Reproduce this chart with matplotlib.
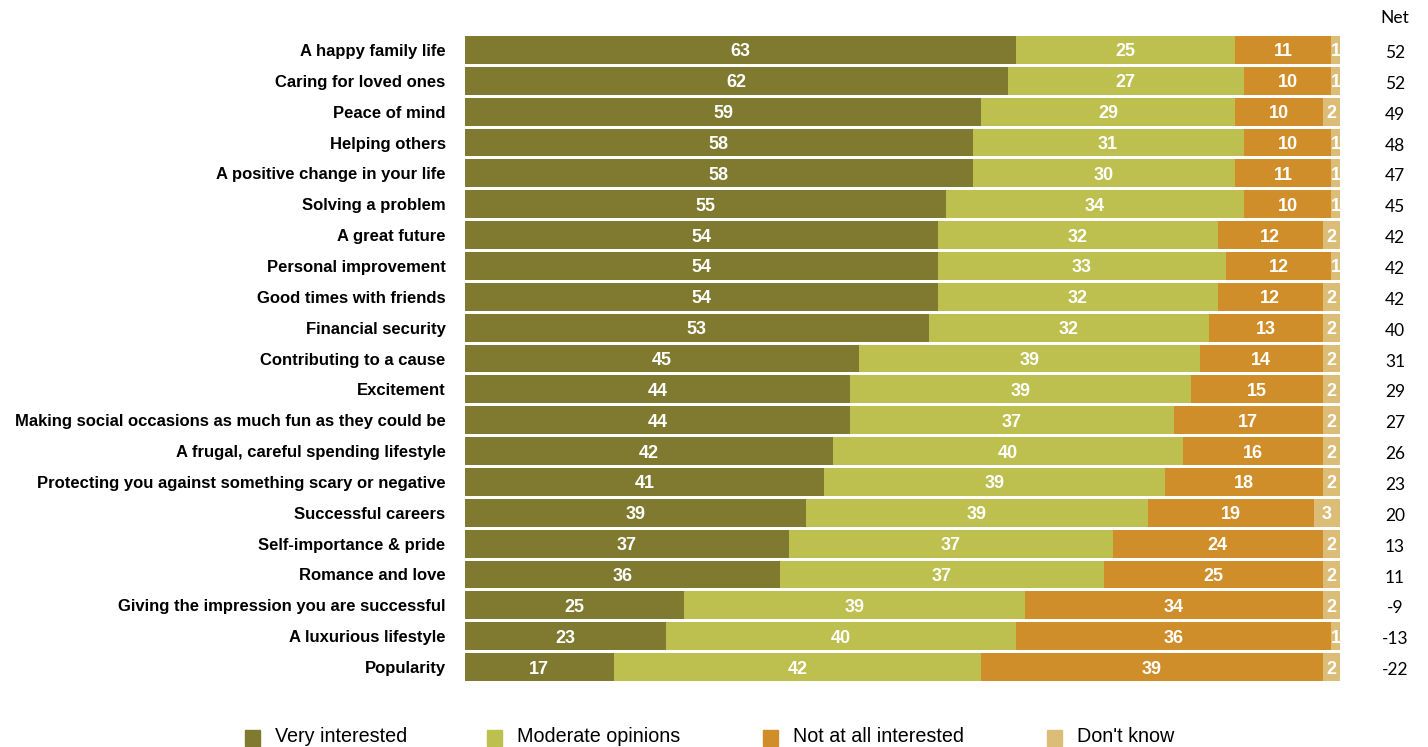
import numpy as np
import matplotlib.pyplot as plt

plt.rcParams['font.family'] = ['Liberation Sans', 'DejaVu Sans']

categories = [
    "A happy family life",
    "Caring for loved ones",
    "Peace of mind",
    "Helping others",
    "A positive change in your life",
    "Solving a problem",
    "A great future",
    "Personal improvement",
    "Good times with friends",
    "Financial security",
    "Contributing to a cause",
    "Excitement",
    "Making social occasions as much fun as they could be",
    "A frugal, careful spending lifestyle",
    "Protecting you against something scary or negative",
    "Successful careers",
    "Self-importance & pride",
    "Romance and love",
    "Giving the impression you are successful",
    "A luxurious lifestyle",
    "Popularity",
]
very = [63, 62, 59, 58, 58, 55, 54, 54, 54, 53, 45, 44, 44, 42, 41, 39, 37, 36, 25, 23, 17]
moderate = [25, 27, 29, 31, 30, 34, 32, 33, 32, 32, 39, 39, 37, 40, 39, 39, 37, 37, 39, 40, 42]
not_at_all = [11, 10, 10, 10, 11, 10, 12, 12, 12, 13, 14, 15, 17, 16, 18, 19, 24, 25, 34, 36, 39]
dont_know = [1, 1, 2, 1, 1, 1, 2, 1, 2, 2, 2, 2, 2, 2, 2, 3, 2, 2, 2, 1, 2]
net = [52, 52, 49, 48, 47, 45, 42, 42, 42, 40, 31, 29, 27, 26, 23, 20, 13, 11, -9, -13, -22]

series = [very, moderate, not_at_all, dont_know]
series_names = ["Very interested", "Moderate opinions", "Not at all interested", "Don't know"]
colors = ["#807a30", "#bdbf4f", "#cf8e2a", "#dbbd78"]

fig = plt.figure(figsize=(14.28, 7.47), dpi=100)
ax = fig.add_axes([465 / 1428, 1 - 682.5 / 747, 875 / 1428, 648 / 747])

y = np.arange(len(categories))
left = np.zeros(len(categories))
for vals, col in zip(series, colors):
    vals = np.array(vals, dtype=float)
    ax.barh(y, vals, left=left, height=0.9, color=col, linewidth=0)
    for yi, l, v in zip(y, left, vals):
        ax.text(l + v / 2, yi, f"{int(v)}", ha='center', va='center_baseline',
                color='white', fontsize=13, fontweight='bold')
    left += vals

ax.set_xlim(0, 100)
ax.set_ylim(len(categories) - 0.5, -0.5)
ax.set_yticks(y)
ax.set_yticklabels(categories, fontsize=12, fontweight='bold')
ax.tick_params(axis='y', length=0, pad=14)
ax.set_xticks([])
for s in ax.spines.values():
    s.set_visible(False)

# net column on the right
net_x = 106.3
ax.text(net_x, -1.05, "Net", ha='center', va='center', fontsize=12.5,
        family='Lato', clip_on=False)
for yi, n in zip(y, net):
    ax.text(net_x, yi + 0.1, f"{n}", ha='center', va='center', fontsize=12.5,
            family='Lato', clip_on=False)

# legend along the bottom
legend_x = [245, 487, 763, 1047]
for lx, name, col in zip(legend_x, series_names, colors):
    fig.patches.append(plt.Rectangle((lx / 1428, 1 - 746 / 747), 15 / 1428, 16 / 747,
                                     transform=fig.transFigure, color=col))
    fig.text((lx + 30) / 1428, 1 - 737 / 747, name, ha='left', va='center', fontsize=14.2)

fig.savefig("out.png", dpi=100)
